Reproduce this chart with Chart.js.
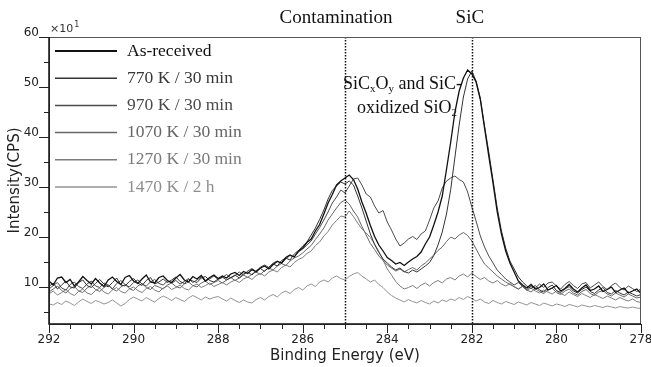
<!DOCTYPE html>
<html>
<head>
<meta charset="utf-8">
<script src="https://cdn.jsdelivr.net/npm/chart.js@4.4.0/dist/chart.umd.min.js"></script>
<style>
html, body { margin: 0; padding: 0; background: #fff; }
#wrap { width: 651px; height: 367px; position: relative; }
</style>
</head>
<body>
<div id="wrap"><canvas id="xps"></canvas></div>
<script>
// binding energy grid (eV), high to low
const energy = [
  292.0, 291.9, 291.8, 291.7, 291.6, 291.5, 291.4, 291.3, 291.2, 291.1,
  291.0, 290.9, 290.8, 290.7, 290.6, 290.5, 290.4, 290.3, 290.2, 290.1,
  290.0, 289.9, 289.8, 289.7, 289.6, 289.5, 289.4, 289.3, 289.2, 289.1,
  289.0, 288.9, 288.8, 288.7, 288.6, 288.5, 288.4, 288.3, 288.2, 288.1,
  288.0, 287.9, 287.8, 287.7, 287.6, 287.5, 287.4, 287.3, 287.2, 287.1,
  287.0, 286.9, 286.8, 286.7, 286.6, 286.5, 286.4, 286.3, 286.2, 286.1,
  286.0, 285.9, 285.8, 285.7, 285.6, 285.5, 285.4, 285.3, 285.2, 285.1,
  285.0, 284.9, 284.8, 284.7, 284.6, 284.5, 284.4, 284.3, 284.2, 284.1,
  284.0, 283.9, 283.8, 283.7, 283.6, 283.5, 283.4, 283.3, 283.2, 283.1,
  283.0, 282.9, 282.8, 282.7, 282.6, 282.5, 282.4, 282.3, 282.2, 282.1,
  282.0, 281.9, 281.8, 281.7, 281.6, 281.5, 281.4, 281.3, 281.2, 281.1,
  281.0, 280.9, 280.8, 280.7, 280.6, 280.5, 280.4, 280.3, 280.2, 280.1,
  280.0, 279.9, 279.8, 279.7, 279.6, 279.5, 279.4, 279.3, 279.2, 279.1,
  279.0, 278.9, 278.8, 278.7, 278.6, 278.5, 278.4, 278.3, 278.2, 278.1,
  278.0
];

// intensity in units of 10 CPS
const asReceived = [
  11.2, 10.4, 11.8, 12.0, 10.9, 11.5, 10.2, 11.0, 12.1, 11.3,
  10.6, 11.7, 10.8, 10.1, 11.4, 12.0, 11.1, 10.5, 11.9, 12.3,
  11.2, 10.7, 11.6, 12.4, 11.0, 10.8, 11.9, 12.2, 11.3, 10.9,
  11.8, 12.5, 11.4, 11.0, 12.1, 11.6, 12.3, 11.2, 11.9, 12.4,
  11.7, 12.2, 11.8, 12.6, 12.9, 12.3, 13.1, 12.7, 13.5, 13.0,
  13.8, 14.2, 13.6, 14.5, 15.1, 14.8, 15.9, 16.4, 16.0, 17.2,
  17.8, 18.9, 19.6, 21.2, 22.5, 24.6, 26.8, 28.5, 30.4, 31.2,
  31.8, 32.4, 31.5, 29.6, 27.0, 24.8, 22.3, 20.1, 18.4, 17.2,
  15.9, 15.3, 14.6, 14.9, 14.3, 15.0, 15.6, 16.1, 17.0, 18.6,
  20.0, 22.4, 25.0, 28.2, 33.5, 39.0, 45.0, 49.2, 51.8, 53.4,
  52.6, 51.0, 47.5, 41.8, 36.2, 30.8, 25.0, 20.6, 17.2, 14.8,
  13.0, 11.2, 10.4, 9.8, 10.5, 9.6, 9.9, 10.6, 9.4, 9.8,
  10.3, 9.2, 9.7, 10.5, 9.6, 9.0, 9.8, 10.4, 9.3, 9.6,
  10.2, 9.1, 9.5, 10.0, 8.9, 9.4, 9.8, 8.8, 9.2, 9.6,
  8.7
];
const k770 = [
  10.1, 10.8, 9.6, 10.4, 11.2, 10.0, 9.8, 10.9, 11.4, 10.3,
  9.9, 10.7, 11.5, 10.6, 10.0, 10.9, 11.8, 10.4, 10.2, 11.1,
  11.7, 10.8, 10.3, 11.3, 11.9, 10.6, 11.0, 11.6, 10.9, 11.4,
  12.0, 11.1, 10.7, 11.5, 11.2, 10.9, 11.8, 12.1, 11.3, 11.0,
  11.6, 12.0, 11.4, 11.9, 12.4, 11.8, 12.6, 13.0, 12.4, 13.3,
  13.7, 13.1, 14.0, 14.6, 14.2, 15.3, 15.8, 15.4, 16.6, 17.3,
  18.2, 19.0, 20.4, 21.8, 23.5, 25.4, 27.6, 29.3, 30.2, 31.0,
  30.6, 31.2, 30.4, 28.2, 25.8, 23.2, 20.6, 18.5, 16.9, 15.6,
  14.8, 14.0, 13.4, 13.8, 13.1, 12.8, 13.4, 13.0, 13.6, 14.2,
  14.9, 16.3, 18.4, 21.0, 24.6, 29.5, 36.0, 42.4, 48.0, 51.6,
  53.2, 51.2, 47.8, 42.2, 37.0, 31.4, 25.8, 21.2, 17.8, 15.2,
  13.6, 12.0, 11.0, 10.2, 9.7, 10.3, 9.4, 9.0, 9.9, 10.4,
  9.3, 8.9, 9.6, 10.1, 9.2, 8.8, 9.5, 10.0, 9.1, 8.7,
  9.4, 9.9, 8.9, 8.6, 9.3, 8.8, 8.4, 9.0, 8.6, 8.2,
  8.5
];
const k970 = [
  9.6, 10.3, 10.9, 9.8, 9.4, 10.5, 11.0, 10.1, 9.7, 10.6,
  11.2, 10.2, 9.9, 10.8, 10.4, 9.6, 10.7, 11.3, 10.5, 10.0,
  10.9, 11.4, 10.6, 10.2, 11.0, 11.5, 10.7, 10.4, 11.2, 10.8,
  11.3, 10.6, 11.1, 11.7, 10.9, 11.4, 12.0, 11.2, 11.6, 12.2,
  11.5, 11.9, 12.5, 11.8, 12.3, 13.0, 12.4, 13.2, 13.7, 13.1,
  14.0, 14.4, 13.9, 14.8, 15.2, 14.7, 15.6, 16.3, 16.0, 17.0,
  17.6, 18.4, 19.2, 20.6, 21.9, 23.4, 25.0, 26.8, 28.0, 29.4,
  28.8, 30.2, 31.6, 31.8, 30.4, 28.6, 28.0, 26.2, 24.8, 25.3,
  23.0, 21.4, 19.6, 18.2, 18.8, 19.6, 20.1, 19.5, 20.6, 21.2,
  23.4, 25.8, 27.2, 29.8, 31.2, 31.8, 32.2, 31.5, 31.0, 29.0,
  26.0, 23.2, 20.2, 18.0, 16.2, 14.8, 13.4, 12.5, 11.6, 11.0,
  10.4, 10.9, 10.1, 9.5, 10.2, 9.8, 10.6, 9.9, 10.8, 11.0,
  10.2, 9.6, 10.5, 11.1, 10.3, 9.7, 10.6, 10.9, 9.8, 10.4,
  11.0, 10.1, 9.5, 10.3, 10.8, 9.9, 9.4, 10.2, 9.7, 9.1,
  9.6
];
const k1070 = [
  9.0, 9.6, 10.2, 9.3, 8.8, 9.7, 10.1, 9.2, 8.9, 9.8,
  10.3, 9.5, 9.1, 9.9, 10.4, 9.6, 9.2, 10.0, 10.5, 9.7,
  9.3, 10.2, 10.7, 9.9, 9.5, 10.3, 10.0, 9.6, 10.4, 10.8,
  10.1, 9.8, 10.6, 11.0, 10.3, 10.0, 10.8, 11.2, 10.5, 10.9,
  11.3, 10.8, 11.4, 11.9, 11.3, 11.8, 12.4, 11.9, 12.6, 13.0,
  12.5, 13.3, 13.8, 13.4, 14.2, 14.7, 14.3, 15.2, 15.8, 16.2,
  16.8, 17.6, 18.3, 19.5, 20.6, 21.8, 23.4, 24.6, 25.8, 26.9,
  27.4, 26.6, 25.2, 24.0, 22.1, 20.4, 18.7, 17.5, 16.2, 15.3,
  14.4, 13.8, 13.2, 13.6, 13.0, 13.5, 13.9, 13.4, 14.2, 14.8,
  15.6, 16.4, 17.3, 18.0, 19.1, 20.0, 19.6, 20.4, 20.9, 20.3,
  19.2, 17.6, 16.0, 14.6, 13.8, 13.0, 12.2, 11.6, 11.0, 10.5,
  10.1, 9.6, 10.2, 9.4, 9.0, 9.7, 9.1, 8.7, 9.4, 9.8,
  8.9, 8.5, 9.2, 9.6, 8.8, 8.4, 9.1, 9.5, 8.7, 8.3,
  9.0, 9.3, 8.6, 8.2, 8.8, 8.4, 8.0, 8.6, 8.2, 7.8,
  8.0
];
const k1270 = [
  8.6, 9.2, 8.4, 8.9, 9.5, 8.7, 8.3, 9.1, 9.6, 8.8,
  8.5, 9.3, 9.8, 9.0, 8.6, 9.4, 9.9, 9.1, 8.8, 9.6,
  10.0, 9.3, 8.9, 9.7, 10.1, 9.4, 9.0, 9.8, 10.2, 9.5,
  9.9, 10.4, 9.7, 9.4, 10.2, 10.6, 9.9, 10.3, 10.8, 10.1,
  10.5, 10.9, 10.4, 11.0, 11.4, 10.9, 11.6, 12.0, 11.5, 12.3,
  12.7, 12.2, 13.0, 13.4, 13.0, 13.9, 14.4, 14.0, 14.9, 15.5,
  15.9, 16.7, 17.2, 18.3, 19.0, 20.2, 21.1, 22.4, 23.3, 24.2,
  24.0, 25.2, 24.1, 22.8, 21.6, 20.8, 19.9, 18.6, 17.1, 15.4,
  13.6, 12.4, 11.1, 10.2, 9.6, 9.9, 10.3, 9.7, 10.4, 10.8,
  10.2, 10.9, 11.3, 10.8, 11.6, 11.9, 11.4, 12.2, 12.6, 12.0,
  12.8, 12.1, 11.5, 11.9, 11.2, 10.8, 11.3, 10.6, 10.2, 10.7,
  10.0, 9.6, 10.1, 9.3, 9.8, 9.2, 8.8, 9.4, 9.0, 8.6,
  9.2, 8.7, 8.3, 9.0, 8.5, 8.1, 8.7, 8.3, 7.9, 8.5,
  8.1, 7.7, 8.2, 7.8, 7.4, 7.9, 7.5, 7.2, 7.6, 7.1,
  6.9
];
const k1470 = [
  6.6, 6.4, 6.9, 6.5, 7.2, 6.8, 6.3, 7.0, 7.6, 7.1,
  6.7, 7.3, 7.0, 6.6, 6.9, 7.4, 6.8, 6.2, 6.7, 7.5,
  8.0, 7.6, 7.2, 7.9, 7.4, 7.0, 7.7, 8.2, 7.8, 7.3,
  7.9, 7.5, 7.1, 7.8, 8.3, 7.9, 7.4, 8.0, 7.6, 7.9,
  8.1, 7.6, 7.2, 7.8, 7.3, 6.9, 7.4, 7.0, 6.8, 7.5,
  7.9, 7.4, 8.1, 8.5, 8.0, 8.8, 9.2, 8.7, 9.5, 9.9,
  9.4, 10.2, 10.6, 10.1, 11.0, 11.4, 11.0, 11.8, 12.2, 11.7,
  11.4, 12.1, 12.6, 12.9, 12.2, 11.6, 11.0, 11.4, 10.5, 9.9,
  9.0, 8.3, 7.8, 7.4, 7.0, 7.5, 7.1, 6.8, 7.3, 6.9,
  6.6, 7.2, 6.8, 7.4, 7.1, 7.6, 7.3, 7.9, 7.5, 8.1,
  7.7, 7.2, 7.6, 7.0, 6.7, 7.3, 6.9, 6.6, 7.1, 6.8,
  6.5, 7.0, 6.7, 6.4, 6.9, 6.6, 6.3, 6.8, 6.5, 6.2,
  6.6, 6.4, 6.1, 6.5, 6.3, 6.0, 6.4, 6.2, 6.0, 6.3,
  6.1, 5.9, 6.2, 6.0, 5.8, 6.1, 5.9, 5.8, 6.0, 5.8,
  5.7
];

const seriesLabels = ["As-received", "770 K / 30 min", "970 K / 30 min",
  "1070 K / 30 min", "1270 K / 30 min", "1470 K / 2 h"];
const seriesValues = [asReceived, k770, k970, k1070, k1270, k1470];
const xTickValues = [292, 290, 288, 286, 284, 282, 280, 278];
const yTickValues = [10, 20, 30, 40, 50, 60];
const markerLines = [285, 282];

const lineColors = ["#111111", "#333333", "#4c4c4c", "#676767", "#7d7d7d", "#939393"];
const textColors = ["#111111", "#383838", "#4a4a4a", "#666666", "#7a7a7a", "#8e8e8e"];

function drawRich(ctx, x, y, parts, size) {
  let cx = x;
  parts.forEach(p => {
    const s = p.sub ? Math.round(size * 0.62) : size;
    ctx.font = s + "px 'Liberation Serif', serif";
    ctx.fillText(p.t, cx, p.sub ? y + size * 0.28 : y);
    cx += ctx.measureText(p.t).width;
  });
}

const decor = {
  id: "decor",
  afterDatasetsDraw(chart) {
    const ctx = chart.ctx;
    const a = chart.chartArea;
    const xs = chart.scales.x;
    const ys = chart.scales.y;
    ctx.save();

    // dotted markers
    ctx.strokeStyle = "#111";
    ctx.lineWidth = 1.5;
    ctx.setLineDash([1.5, 1.5]);
    markerLines.forEach(v => {
      const px = Math.round(xs.getPixelForValue(v)) + 0.5;
      ctx.beginPath();
      ctx.moveTo(px, a.top);
      ctx.lineTo(px, a.bottom);
      ctx.stroke();
    });
    ctx.setLineDash([]);

    // frame
    ctx.strokeStyle = "#555";
    ctx.lineWidth = 1;
    ctx.strokeRect(a.left + 0.5, a.top + 0.5, a.right - a.left - 1, a.bottom - a.top);
    ctx.strokeStyle = "#111";
    ctx.lineWidth = 1.5;
    ctx.beginPath();
    ctx.moveTo(a.left, a.top);
    ctx.lineTo(a.left, a.bottom);
    ctx.lineTo(a.right, a.bottom);
    ctx.stroke();

    // tick marks
    ctx.lineWidth = 1;
    ctx.strokeStyle = "#222";
    ctx.beginPath();
    for (let v = 5; v <= 60; v += 5) {
      const py = Math.round(ys.getPixelForValue(v)) + 0.5;
      const len = v % 10 === 0 ? 10 : 5;
      ctx.moveTo(a.left - len, py);
      ctx.lineTo(a.left, py);
    }
    for (let v = 278; v <= 292; v += 0.5) {
      const px = Math.round(xs.getPixelForValue(v)) + 0.5;
      const len = v % 2 === 0 ? 9 : 5;
      ctx.moveTo(px, a.bottom);
      ctx.lineTo(px, a.bottom + len);
    }
    ctx.stroke();
    ctx.restore();
  },
  afterDraw(chart) {
    const ctx = chart.ctx;
    const xs = chart.scales.x;
    ctx.save();

    // legend
    ctx.textBaseline = "middle";
    ctx.textAlign = "left";
    seriesLabels.forEach((name, i) => {
      const y = 51 + i * 27.2;
      ctx.strokeStyle = lineColors[i];
      ctx.lineWidth = i === 0 ? 2 : 1.5;
      ctx.beginPath();
      ctx.moveTo(55, y);
      ctx.lineTo(117, y);
      ctx.stroke();
      ctx.fillStyle = textColors[i];
      ctx.font = "17.5px 'Liberation Serif', serif";
      ctx.fillText(name, 127, y);
    });

    // peak labels above the frame
    ctx.fillStyle = "#111";
    ctx.textAlign = "center";
    ctx.font = "19px 'Liberation Serif', serif";
    ctx.fillText("Contamination", xs.getPixelForValue(285) - 9, 18);
    ctx.fillText("SiC", xs.getPixelForValue(282) - 2, 18);

    // oxide annotation
    ctx.textAlign = "left";
    drawRich(ctx, 343, 84, [
      { t: "SiC" }, { t: "x", sub: true }, { t: "O" }, { t: "y", sub: true }, { t: " and SiC-" }
    ], 18);
    drawRich(ctx, 357, 108, [
      { t: "oxidized SiO" }, { t: "2", sub: true }
    ], 18);

    // exponent
    ctx.fillStyle = "#333";
    ctx.font = "11px 'DejaVu Sans', sans-serif";
    ctx.fillText("\u00d710", 50, 29);
    const w = ctx.measureText("\u00d710").width;
    ctx.font = "8px 'DejaVu Sans', sans-serif";
    ctx.fillText("1", 50 + w + 1, 25);
    ctx.restore();
  }
};

new Chart(document.getElementById("xps"), {
  type: "line",
  data: {
    datasets: seriesValues.map((vals, i) => ({
      label: seriesLabels[i],
      data: energy.map((e, j) => ({ x: e, y: vals[j] })),
      borderColor: lineColors[i],
      borderWidth: i === 0 ? 1.3 : 1,
      pointRadius: 0,
      tension: 0
    }))
  },
  options: {
    responsive: true,
    maintainAspectRatio: false,
    animation: false,
    layout: {
      padding: { top: 37, right: 10, left: 0, bottom: 0 }
    },
    plugins: {
      legend: { display: false },
      tooltip: { enabled: false }
    },
    scales: {
      x: {
        type: "linear",
        min: 278,
        max: 292,
        reverse: true,
        grid: { display: false, drawTicks: false },
        border: { display: false },
        afterBuildTicks: s => { s.ticks = xTickValues.map(v => ({ value: v })); },
        afterFit: s => { s.height = 43; s.paddingLeft = 0; s.paddingRight = 0; },
        ticks: {
          padding: 9,
          maxRotation: 0,
          autoSkip: false,
          color: "#222",
          font: { family: "'DejaVu Sans', sans-serif", size: 12 }
        },
        title: {
          display: true,
          text: "Binding Energy (eV)",
          color: "#222",
          padding: { top: 0, bottom: 2 },
          font: { family: "'DejaVu Sans', sans-serif", size: 15 }
        }
      },
      y: {
        type: "linear",
        min: 2.6,
        max: 60,
        grid: { display: false, drawTicks: false },
        border: { display: false },
        afterBuildTicks: s => { s.ticks = yTickValues.map(v => ({ value: v })); },
        afterFit: s => { s.width = 49; s.paddingTop = 0; s.paddingBottom = 0; },
        ticks: {
          padding: 10,
          labelOffset: -4,
          autoSkip: false,
          color: "#222",
          font: { family: "'DejaVu Sans', sans-serif", size: 12 }
        },
        title: {
          display: true,
          text: "Intensity(CPS)",
          color: "#222",
          padding: { top: 6, bottom: 0 },
          font: { family: "'DejaVu Sans', sans-serif", size: 15 }
        }
      }
    }
  },
  plugins: [decor]
});
</script>
</body>
</html>
